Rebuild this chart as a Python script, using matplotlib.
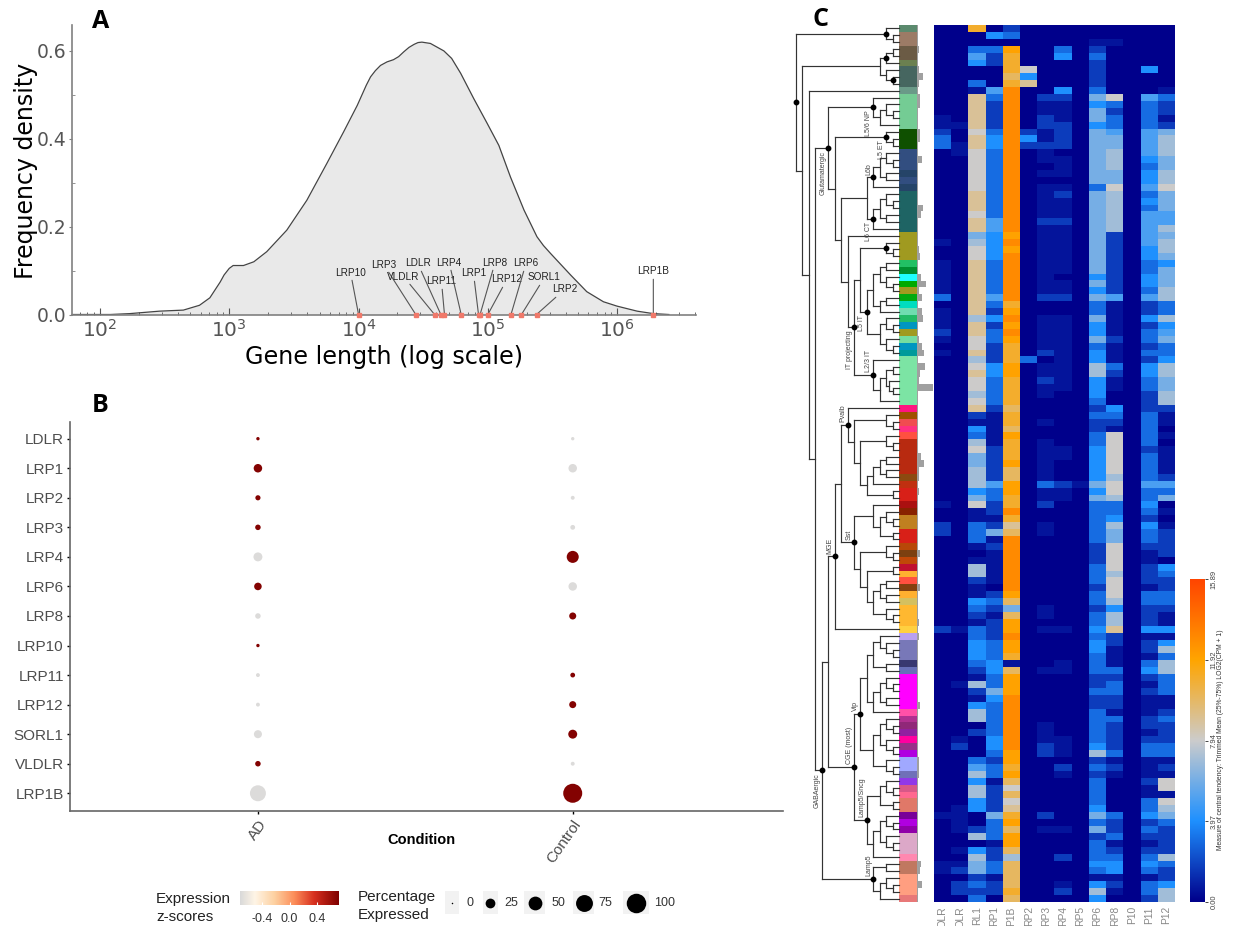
import matplotlib
matplotlib.use('Agg')
import matplotlib.pyplot as plt
from matplotlib.colors import LinearSegmentedColormap
from matplotlib.transforms import ScaledTranslation
import numpy as np

W, H = 1233, 926
SANS = 'Liberation Sans'

# panel A
curve_logx = [1.79, 2.08, 2.23, 2.46, 2.645, 2.77, 2.85, 2.93, 2.96, 3.0, 3.03, 3.11, 3.19, 3.29, 3.445, 3.6, 3.755,
              3.885, 3.99, 4.06, 4.093, 4.13, 4.17, 4.22, 4.27, 4.31, 4.35, 4.39, 4.43, 4.46, 4.49, 4.556, 4.66, 4.72, 4.79,
              4.89, 4.995, 5.085, 5.175, 5.28, 5.38, 5.43, 5.485, 5.64, 5.765, 5.894, 6.0, 6.155, 6.28, 6.4]
curve_dens = [0, 0, .002, .0076, .01, .021, .038, .074, .09, .105, .1115, .1115, .12, .143, .192, .26, .344,
              .416, .476, .522, .541, .555, .567, .575, .58, .587, .598, .608, .615, .619, .62, .617, .60, .583, .549,
              .492, .435, .385, .313, .2375, .177, .157, .139, .09, .052, .029, .019, .0076, .002, 0]
gene_names = ['LRP10', 'LRP3', 'VLDLR', 'LDLR', 'LRP11', 'LRP4', 'LRP1', 'LRP8', 'LRP12', 'LRP6', 'SORL1', 'LRP2', 'LRP1B']
gene_lengths = [10000, 27700, 38700, 43300, 46200, 62200, 84700, 87100, 100000, 151000, 182000, 238000, 1905000]
label_dx = [-8, -32, -31, -23, -3, -12, -5, 15, 19, 15, 23, 28, 0]
label_dy = [42, 50, 38, 51, 33, 52, 41, 52, 35, 51, 37, 25, 43]

# panel B
dot_genes = ['LDLR', 'LRP1', 'LRP2', 'LRP3', 'LRP4', 'LRP6', 'LRP8', 'LRP10', 'LRP11', 'LRP12', 'SORL1', 'VLDLR', 'LRP1B']
conditions = ['AD', 'Control']
pct_ad = [3, 19, 7, 8, 21, 15, 8, 3, 4, 4, 17, 8, 67]
pct_ctrl = [3, 19, 4, 6, 38, 19, 13, 0, 6, 13, 21, 4, 95]
z_ad = [.7, .7, .7, .7, -.7, .7, -.7, .7, -.7, -.7, -.7, .7, -.7]
z_ctrl = [-.7, -.7, -.7, -.7, .7, -.7, .7, 0, .7, .7, .7, -.7, .7]
legend_pct = [0, 25, 50, 75, 100]

# panel C, one hex digit per cluster (top to bottom), grouped in tens
heat_genes = ['DLR', 'DLR', 'RL1', 'RP1', 'P1B', 'RP2', 'RP3', 'RP4', 'RP5', 'RP6', 'RP8', 'P10', 'P11', 'P12']
c_vldlr = '0000000000 0001123300 0000000000 0100111113 0111210100 0000000000 0000000001 0022000000 0000000200 0000000000 0000000000 0000100000 0110000'
c_ldlr = '0000000000 0000100110 0000000000 0000000000 0000000000 0000000000 0000000000 0000000000 0000000100 0000010000 0001200000 0001111001 0120220'
c_sorl1 = 'b003540031 9999989988 8888999899 6788999999 9979988978 9887892143 7866777468 1133310177 2114321334 4432172147 7020003574 7744002704 7662323'
c_lrp1 = '0403220005 3222234433 3333333355 4444333335 3242332224 4333321111 1222225332 2126121111 1023212223 3344336433 3334432331 2222633312 2331220'
c_lrp1b = '230cbbbabd dddddddddd dddddddddd cdcddddddd bcdcdcbbbc cbbbbabbac bbbcaaccbb db9adddddd ddca6accdc cb1acccddd dddddccbca 8a89bcacca 7aaaaba'
c_lrp2 = '0000008490 0000024200 0000000000 0000000000 0000000030 0000000000 0000000000 0000000000 0000000000 0000000000 0000000000 0000000000 0000000'
c_lrp3 = '0000000000 2112211211 0101111121 1111111112 0011111201 1211000100 1111113112 0011000000 0000110100 0001000000 0111220000 0000201000 0000000'
c_lrp4 = '0003400004 2111222201 1101211121 1111110112 0011111111 1110000000 0110002110 0000000000 0000000100 0011000000 0001110210 0000001000 2000120'
c_lrp5 = '0000000000 0000000000 0000000000 0000000000 0000000000 0000000000 0000001000 0000000000 0000000000 0000000000 0000000000 0000000000 0000000'
c_lrp6 = '0012322223 6466466666 6663666666 6666664646 3364463447 7444323223 3444446463 3333322233 3233233434 4333223223 3333472323 3334636233 3431474'
c_lrp8 = '0010000000 8323356677 7668777777 2222222225 1111121113 2110043218 8888878873 3476688887 8887477922 1113233221 3222231210 0000322312 3441210'
c_lrp10 = '0000000000 0000000000 0000000000 0000000000 0000000000 0000000000 0000000000 0000000000 0000000000 0000000000 0000000000 0000000000 0000000'
c_lrp11 = '0000004000 5333355554 3445343555 5544334435 2242332324 4332223333 3233335334 3243321122 2133222412 2134212111 2212331112 1133423212 3431332'
c_lrp12 = '0000000001 3221267776 6778666557 6776466677 3374563347 7667721101 0111125360 1012222043 2233211414 7377333112 3222331218 8187632222 7322477'
heat_cols = [c_vldlr, c_ldlr, c_sorl1, c_lrp1, c_lrp1b, c_lrp2, c_lrp3, c_lrp4, c_lrp5, c_lrp6, c_lrp8, c_lrp10, c_lrp11, c_lrp12]
digit_values = [0, 0.6, 1.7, 3, 4, 5, 6, 7, 8, 9, 10, 11, 12, 13]

side_bar = [1, 1, 1, 2, 1, 1, 2, 6, 2, 1, 3, 3, 1, 1, 1, 3, 3, 1, 1, 5,
            1, 1, 1, 1, 1, 1, 6, 4, 1, 1, 1, 1, 2, 3, 1, 1, 4, 9, 2, 5,
            1, 5, 6, 1, 1, 2, 5, 7, 1, 8, 3, 2, 16, 1, 1, 1, 1, 1, 1, 1,
            1, 1, 4, 7, 2, 2, 1, 2, 1, 1, 1, 1, 1, 1, 1, 1, 3, 1, 1, 1,
            1, 3, 1, 1, 1, 1, 2, 1, 2, 1, 1, 1, 1, 1, 1, 1, 1, 1, 3, 1,
            1, 1, 1, 1, 1, 1, 2, 2, 2, 1, 1, 1, 1, 1, 1, 1, 1, 1, 1, 1,
            1, 4, 3, 1, 5, 1, 1]
strip_colors = ['#5B8A6E', '#9C7B66', '#6B5B45', '#6B8050', '#466660', '#6A9A88', '#74CC94', '#0F5000', '#324E80',
                '#254468', '#324E80', '#254468', '#1E6464', '#A09A20', '#22C064', '#009030', '#20FFFF', '#00AA00',
                '#A09A20', '#00AA10', '#00DDC0', '#70DDB0', '#22BB66', '#0096C0', '#A09A20', '#74DDA0', '#0096C0',
                '#009A9A', '#7CE4A4', '#FF1480', '#A05000', '#F04C50', '#FF3080', '#FF5040', '#B82A10', '#8C4A10',
                '#C03010', '#D82018', '#AA1010', '#882200', '#C08020', '#D82018', '#B84808', '#7C4010', '#C04808',
                '#C01030', '#FFB030', '#FF5040', '#844010', '#FFB030', '#D4C060', '#FFB830', '#FFD040', '#B8A0F0',
                '#7878B8', '#383870', '#6870B8', '#FF00FF', '#FF50A8', '#B03090', '#902878', '#9020A0', '#FF00A0',
                '#983088', '#B000E0', '#A0A8FF', '#7070B8', '#9038E8', '#D85888', '#FF6890', '#E07868', '#780098',
                '#B000E0', '#9000A8', '#DCA8C8', '#FF88B0', '#C07860', '#FF9E80', '#E87878']
strip_runs = [1, 2, 2, 1, 3, 1, 5, 3, 3, 1, 1, 1, 6, 4, 1, 1, 1, 1, 1, 1, 1, 1, 1, 1, 1, 1, 1, 1, 7, 1, 1, 1, 1, 1, 5, 1,
              1, 2, 1, 1, 2, 2, 1, 1, 1, 1, 1, 1, 1, 1, 1, 3, 1, 1, 3, 1, 1, 5, 1, 1, 1, 1, 1, 1, 1, 2, 1, 1, 1, 1, 2, 1,
              1, 1, 3, 1, 2, 3, 1]
cbar_ticks = [0.00, 3.97, 7.94, 11.92, 15.89]


def n(level, *kids, label=None, dot=False):
    return {'level': level, 'kids': kids, 'label': label, 'dot': dot or label is not None}


tri = n(14, 0, n(15, 0, 0))
tri_dot = n(14, 0, n(15, 0, 0), dot=True)
pair14 = n(14, 0, 0)
pair15 = n(15, 0, 0)
six = n(12, n(13, tri, pair14), 0)

top_group = n(13, n(14, n(15, 0, 0), 0, dot=True), n(14, 0, n(15, 0, 0, dot=True)))
np_node = n(12, 0, n(13, tri, 0), label='L5/6 NP')
et_node = n(14, 0, pair15, label='L5 ET')
l6b_node = n(12, n(13, tri, pair14), 0, label='L6b')
l6ct_node = n(12, n(13, tri, pair14), 0, label='L6 CT')
l5it_node = n(11, n(12, n(13, pair14, tri), n(13, pair14, 0)), n(13, tri, tri), label='L5 IT')
l23_node = n(12, 0, n(13, n(14, pair15, n(14.5, 0, pair15)), 0), label='L2/3 IT')
it_node = n(9, n(10, tri_dot, l5it_node), l23_node, label='IT projecting')
glut_node = n(5, np_node, n(6, et_node, n(7, n(11, l6b_node, l6ct_node), n(8, 0, it_node))), label='Glutamatergic')

pvalb_node = n(8, 0, n(9, tri, n(10, tri, n(11, n(12, n(13, pair14, pair14), 0), pair15))), label='Pvalb')
sst_node = n(9, n(12, 0, n(13, tri, pair15)), n(10, tri, n(11, pair15, n(12, n(13, pair14, pair14), tri))), label='Sst')
mge_node = n(6, n(7, pvalb_node, sst_node), 0, label='MGE')
vip_node = n(10, n(11, n(12, n(13, 0, tri), pair14), six), n(12, n(13, tri, tri), tri), label='Vip')
sncg_node = n(11, n(13, tri, pair15), n(12, n(13, tri, tri), 0), label='Lamp5/Sncg')
cge_node = n(9, vip_node, sncg_node, label='CGE (most)')
lamp5_node = n(12, pair14, n(13, tri, 0), label='Lamp5')
gaba_node = n(4, n(5, mge_node, cge_node), lamp5_node, label='GABAergic')
tree = n(0, n(14, 0, pair15, dot=True), n(1, top_group, n(2, 0, n(3, glut_node, gaba_node))), dot=True)
labels_above = ['L6b', 'L2/3 IT', 'Pvalb', 'Sst', 'MGE', 'Vip', 'CGE (most)', 'Lamp5/Sncg', 'Lamp5']

fig = plt.figure(figsize=(W / 100, H / 100), dpi=100)


def axes_px(x0, y0, x1, y1):
    return fig.add_axes([x0 / W, 1 - y1 / H, (x1 - x0) / W, (y1 - y0) / H])


# ---- A ----
ax = axes_px(72.3, 25, 696, 314.5)
curve_x = 10 ** np.array(curve_logx)
ax.fill_between(curve_x, curve_dens, color='#E9E9E9', lw=0)
ax.plot(curve_x, curve_dens, color='#444444', lw=0.9)
ax.set_xscale('log')
ax.set_xlim(10 ** 1.786, 10 ** 6.61)
ax.set_ylim(0, 0.659)
ax.set_yticks([0, .2, .4, .6])
ax.set_yticks([.1, .3, .5], minor=True)
ax.spines[['top', 'right']].set_visible(False)
ax.spines[['left', 'bottom']].set_color('#808080')
ax.spines[['left', 'bottom']].set_linewidth(1.2)
ax.tick_params(axis='y', which='major', labelsize=13.5, labelcolor='#555555', color='#808080', length=2, pad=2)
ax.tick_params(axis='y', which='minor', direction='in', length=2, color='#808080')
ax.tick_params(axis='x', which='major', direction='in', labelsize=14.5, labelcolor='#555555', color='#555555', length=5, pad=3)
ax.tick_params(axis='x', which='minor', direction='in', color='#555555', length=2.5)
ax.xaxis.set_major_locator(matplotlib.ticker.LogLocator(base=10, numticks=10))
ax.xaxis.set_minor_locator(matplotlib.ticker.LogLocator(base=10, subs=np.arange(2, 10) * 1.0, numticks=10))
ax.set_xlabel('Gene length (log scale)', fontsize=17.2, labelpad=3)
ax.set_ylabel('Frequency density', fontsize=17, labelpad=-1, y=0.496)
ax.plot(gene_lengths, [0] * len(gene_lengths), 's', color='#F0796A', ms=2.2, clip_on=False, zorder=5)
for name, length, dx, dy in zip(gene_names, gene_lengths, label_dx, label_dy):
    ax.annotate(name, (length, 0), xytext=(dx, dy), textcoords='offset pixels', ha='center', va='center',
                family=SANS, fontsize=7.2, color='#222222',
                arrowprops=dict(arrowstyle='-', color='#555555', lw=0.8, shrinkA=0, shrinkB=0))

# ---- B ----
ax = axes_px(70, 422, 783, 811)
reds = LinearSegmentedColormap.from_list('expr', [(0, '#D9D9D9'), (.15, '#FFF5E6'), (.35, '#FDD0A0'), (.55, '#FC8D59'),
                                                  (.75, '#D7301F'), (1, '#7F0000')])


def dot_area(pct):
    d_px = 1.95 * np.sqrt(np.maximum(pct, 0.6))
    return (d_px * 0.72) ** 2


rows = np.arange(len(dot_genes))
for i, (pct, zs) in enumerate([(pct_ad, z_ad), (pct_ctrl, z_ctrl)]):
    pct = np.array(pct, dtype=float)
    keep = pct > 0
    ax.scatter(np.full(keep.sum(), i), rows[keep], s=dot_area(pct[keep]), c=np.array(zs)[keep], cmap=reds,
               vmin=-.72, vmax=.72, lw=0)
ax.set_xlim(-0.597, 1.668)
ax.set_ylim(12.6, -0.565)
ax.set_yticks(rows, dot_genes, family=SANS, fontsize=11, color='#4D4D4D')
ax.set_xticks([0, 1])
ax.set_xticklabels(conditions, family=SANS, fontsize=11, color='#4D4D4D', rotation=55, ha='right', va='top', rotation_mode='anchor')
for lab in ax.get_xticklabels():
    lab.set_transform(lab.get_transform() + ScaledTranslation(-0.03, 0, fig.dpi_scale_trans))
ax.spines[['top', 'right']].set_visible(False)
ax.spines[['left', 'bottom']].set_color('#666666')
ax.spines[['left', 'bottom']].set_linewidth(1.2)
ax.tick_params(length=2.5, width=1, pad=2)

# ---- B legends ----
ax = axes_px(240, 891, 339, 905)
ax.imshow(np.linspace(-.72, .72, 256).reshape(1, -1), cmap=reds, aspect='auto', vmin=-.72, vmax=.72, extent=[-.72, .72, 0, 1])
ax.set_xticks([-.4, 0, .4], ['-0.4', '0.0', '0.4'], family=SANS, fontsize=9, color='#333333')
ax.set_yticks([])
ax.tick_params(axis='x', length=2, color='white', direction='in', pad=6)
ax.spines[:].set_visible(False)

# overlay in pixel units for the texts
ov = axes_px(0, 0, W, H)
ov.set_xlim(0, W)
ov.set_ylim(H, 0)
ov.axis('off')
ov.patch.set_alpha(0)
ov.text(101, 21.5, 'A', fontsize=18, fontweight='bold', family='Open Sans', ha='center', va='center')
ov.text(100, 406, 'B', fontsize=18, fontweight='bold', family='Open Sans', ha='center', va='center')
ov.text(820, 20, 'C', fontsize=18, fontweight='bold', family='Open Sans', ha='center', va='center')
ov.text(421, 840, 'Condition', fontsize=10.5, fontweight='bold', family=SANS, ha='center', va='center')
ov.text(156, 899, 'Expression', fontsize=11, family=SANS, va='center', color='#222222')
ov.text(156, 917, 'z-scores', fontsize=11, family=SANS, va='center', color='#222222')
ov.text(358, 897, 'Percentage', fontsize=11, family=SANS, va='center', color='#222222')
ov.text(358, 915, 'Expressed', fontsize=11, family=SANS, va='center', color='#222222')
key_x = [452, 490, 534.5, 583.5, 636]
key_w = [14, 15, 21, 21, 26]
key_lab = [470, 511, 558, 605, 665]
for x, w, lab, pct in zip(key_x, key_w, key_lab, legend_pct):
    ov.add_patch(plt.Rectangle((x - w / 2, 891), w, 23, color='#F2F2F2', lw=0))
    ov.scatter([x], [902.5], s=dot_area(pct), color='black', lw=0)
    ov.text(lab, 902.5, str(pct), family=SANS, fontsize=9, color='#333333', ha='center', va='center')

# ---- C heatmap ----
heat = np.array([[digit_values[int(ch, 16)] for ch in ''.join(col.split())] for col in heat_cols], dtype=float).T
n_rows, n_cols = heat.shape
value_cmap = LinearSegmentedColormap.from_list('tmean', ['#00008B', '#1E90FF', '#CCCCCC', '#FFA500', '#FF4500'])
ax = axes_px(934, 25, 1175, 902)
ax.imshow(heat, cmap=value_cmap, vmin=0, vmax=15.89, aspect='auto', interpolation='nearest')
ax.set_yticks([])
ax.set_xticks(range(n_cols))
ax.set_xticklabels(heat_genes, rotation=90, family=SANS, fontsize=7.4, color='#888888', va='top', ha='center')
ax.tick_params(axis='x', length=0, pad=3)
ax.spines[:].set_visible(False)

# colour strip
ax = axes_px(899, 25, 917, 902)
ax.barh(np.arange(n_rows), 1, height=1, color=np.repeat(strip_colors, strip_runs), lw=0)
ax.set_xlim(0, 1)
ax.set_ylim(n_rows - .5, -.5)
ax.axis('off')

# cell count bars
ax = axes_px(917, 25, 934, 902)
ax.barh(np.arange(n_rows), side_bar, height=1, color='#A0A0A0', lw=0)
ax.set_xlim(0, 17)
ax.set_ylim(n_rows - .5, -.5)
ax.axis('off')

# dendrogram
ax = axes_px(796, 25, 899, 902)
ax.set_xlim(0, 16)
ax.set_ylim(n_rows - .5, -.5)
ax.axis('off')
leaf_count = 0


def draw(node):
    global leaf_count
    if node == 0:
        leaf_count += 1
        return 16, leaf_count - 1
    kids = [draw(k) for k in node['kids']]
    lev = node['level']
    ys = [k[1] for k in kids]
    y = (ys[0] + ys[-1]) / 2
    ax.plot([lev, lev], [ys[0], ys[-1]], color='#333333', lw=0.85, solid_capstyle='projecting', clip_on=False)
    for kx, ky in kids:
        ax.plot([lev, kx], [ky, ky], color='#333333', lw=0.85, clip_on=False)
    if node['dot']:
        ax.plot([lev], [y], 'o', color='black', ms=3.2, clip_on=False, zorder=4)
    if node['label']:
        above = node['label'] in labels_above
        ax.text(lev - 0.75, y - 0.4 if above else y + 0.4, node['label'], rotation=90, fontsize=5, family=SANS,
                color='#444444', ha='center', va='bottom' if above else 'top')
    return lev, y


draw(tree)

# colour bar
ax = axes_px(1190, 579, 1205, 902)
ax.imshow(np.linspace(15.89, 0, 256).reshape(-1, 1), cmap=value_cmap, vmin=0, vmax=15.89, aspect='auto', extent=[0, 1, 0, 15.89])
ax.set_xticks([])
ax.yaxis.tick_right()
ax.set_yticks(cbar_ticks, [f'{v:.2f}' for v in cbar_ticks], rotation=90, va='center', family=SANS, fontsize=5.5, color='#444444')
ax.tick_params(axis='y', length=2, width=0.7, pad=2, color='#444444')
ax.spines[:].set_visible(False)
ov.text(1220, 740, 'Measure of central tendency: Trimmed Mean (25%-75%) LOG2(CPM + 1)', rotation=90, family=SANS,
        fontsize=4.9, color='#333333', ha='center', va='center')

fig.savefig('out.png', dpi=100)
